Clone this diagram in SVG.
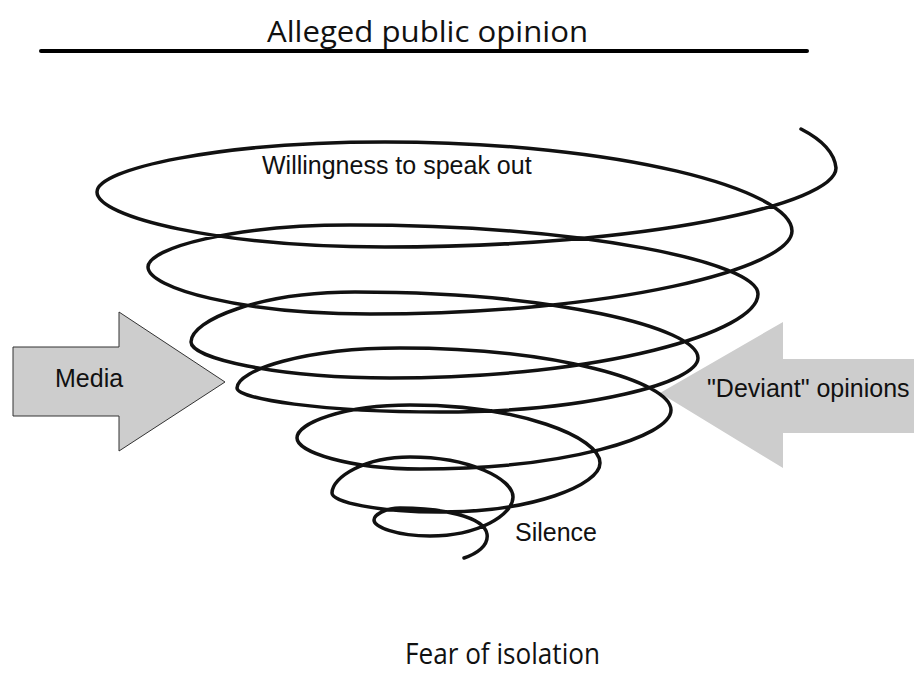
<svg xmlns="http://www.w3.org/2000/svg" width="914" height="680" viewBox="0 0 914 680">
<style>
.cal{font-family:"Open Sans","Noto Sans","DejaVu Sans",sans-serif;font-size:30px;fill:#111}
.ari{font-family:"Liberation Sans",Arial,sans-serif;font-size:25px;fill:#111}
.blk{fill:#cdcdcd}
.spiral{fill:none;stroke:#111;stroke-width:3.5;stroke-linecap:round;stroke-linejoin:round}
</style>
<rect width="914" height="680" fill="#ffffff"/>
<g id="title">
<text class="cal" x="267" y="42" textLength="321" lengthAdjust="spacingAndGlyphs">Alleged public opinion</text>
<line x1="41" y1="51" x2="807" y2="51" stroke="#000" stroke-width="4" stroke-linecap="round"/>
</g>
<g id="media">
<polygon class="blk" points="13,347 119,347 119,312 225,382 119,451 119,416 13,416" stroke="#333" stroke-width="1"/>
<text class="ari" x="55" y="387">Media</text>
</g>
<g id="deviant">
<polygon class="blk" points="660,393 783,322 783,359 914,359 914,433 783,433 783,468"/>
<text class="ari" x="707" y="397">"Deviant" opinions</text>
</g>
<g id="connectors">
<path id="spiral" class="spiral" d="M 801,129 Q 834,146 836,168
C 836,204 647,247 385,247
C 218,247 97,217 97,192
C 97,169 218,142 385,142
C 621,142 792,190 792,231
C 792,268 615,314 370,314
C 241,314 148,288 148,267
C 148,248 233,225 350,225
C 587,225 758,263 758,294
C 758,332 603,378 390,378
C 275,378 191,358 191,342
C 191,320 260,292 355,292
C 554,292 698,328 698,358
C 698,382 590,412 440,412
C 322,412 237,399 237,388
C 237,370 305,348 400,348
C 557,348 671,382 671,410
C 671,437 566,469 420,469
C 349,469 297,452 297,438
C 297,423 344,405 410,405
C 520,405 600,437 600,463
C 600,485 533,512 440,512
C 377,512 332,502 332,493
C 332,477 365,457 410,457
C 470,457 513,479 513,497
C 513,515 478,536 430,536
C 397,536 374,527 374,520
C 374,515 385,508 400,508
C 440,508 484,516 487,534
C 489,546 476,554 464,558"/>
</g>
<g id="willingness">
<text class="ari" x="262" y="174">Willingness to speak out</text>
</g>
<g id="silence">
<text class="ari" x="515" y="541">Silence</text>
</g>
<g id="fear">
<text class="cal" x="405" y="664" font-size="29" textLength="195" lengthAdjust="spacingAndGlyphs">Fear of isolation</text>
</g>
</svg>
